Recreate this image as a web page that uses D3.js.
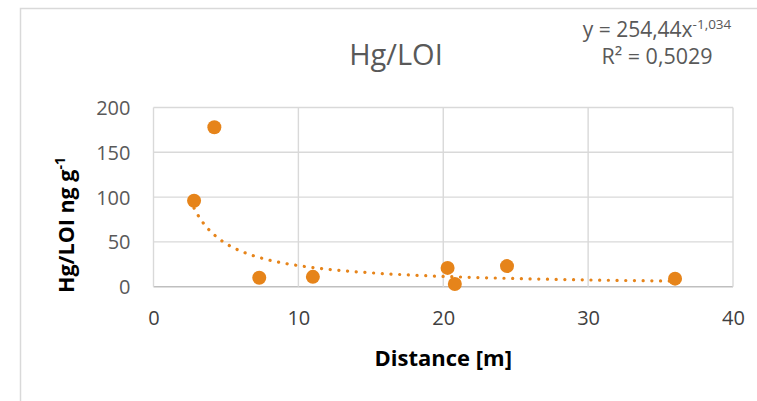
<!DOCTYPE html>
<html>
<head>
<meta charset="utf-8">
<script src="https://cdn.jsdelivr.net/npm/d3@7"></script>
<style>
  body { margin: 0; background: #fff; }
  text { font-family: "Open Sans", sans-serif; }
</style>
</head>
<body>
<svg id="chart" width="757" height="401"></svg>
<script>
// sample points
let distance = [2.8, 4.2, 7.3, 11.0, 20.3, 20.8, 24.4, 36.0];
let hgLoi = [96, 178, 10, 11, 21, 3, 23, 9];

let xTicks = [0, 10, 20, 30, 40];
let yTicks = [0, 50, 100, 150, 200];

// power trendline as printed on the chart
let trendA = 254.44;
let trendB = -1.034;
let trendLabel = "y = 254,44x";
let trendExp = "-1,034";
let r2Label = "R\u00B2 = 0,5029";

let orange = "#e6841a";
let grid = "#d9d9d9";

let svg = d3.select("#chart");

svg.append("rect")
    .attr("width", 757)
    .attr("height", 401)
    .attr("fill", "white");

// outer chart frame (runs off the right and bottom edge)
svg.append("rect")
    .attr("x", 20.5)
    .attr("y", 8.5)
    .attr("width", 800)
    .attr("height", 500)
    .attr("fill", "none")
    .attr("stroke", grid)
    .attr("stroke-width", 1.5);

let x = d3.scaleLinear().domain([0, 40]).range([153.5, 733]);
let y = d3.scaleLinear().domain([0, 200]).range([286.7, 107.5]);

// gridlines
let gGrid = svg.append("g");
gGrid.selectAll("line.h")
    .data(yTicks)
    .enter().append("line")
    .attr("x1", x(0)).attr("x2", x(40))
    .attr("y1", function(d) { return y(d); })
    .attr("y2", function(d) { return y(d); })
    .attr("stroke", function(d) { return d === 0 ? "#bfbfbf" : grid; })
    .attr("stroke-width", 1.4);
gGrid.selectAll("line.v")
    .data(xTicks)
    .enter().append("line")
    .attr("y1", y(0)).attr("y2", y(200))
    .attr("x1", function(d) { return x(d); })
    .attr("x2", function(d) { return x(d); })
    .attr("stroke", grid)
    .attr("stroke-width", 1.4);

// axes (labels only, Excel style)
let xAxis = svg.append("g")
    .attr("transform", "translate(0," + y(0) + ")")
    .call(d3.axisBottom(x).tickValues(xTicks).tickSize(0).tickPadding(0));
xAxis.select(".domain").remove();
xAxis.selectAll("text")
    .attr("y", 38)
    .attr("dy", 0)
    .attr("font-size", 20)
    .attr("font-family", "Open Sans")
    .attr("fill", "#404040");

let yAxis = svg.append("g")
    .attr("transform", "translate(" + x(0) + ",0)")
    .call(d3.axisLeft(y).tickValues(yTicks).tickSize(0).tickPadding(0));
yAxis.select(".domain").remove();
yAxis.selectAll("text")
    .attr("x", -23)
    .attr("dy", "0.35em")
    .attr("font-size", 20)
    .attr("font-family", "Open Sans")
    .attr("fill", "#595959");

// trendline
let xMin = d3.min(distance), xMax = d3.max(distance);
let trendPts = d3.range(0, 201).map(function(i) {
    let xv = xMin + (xMax - xMin) * i / 200;
    return [xv, trendA * Math.pow(xv, trendB)];
});
svg.append("path")
    .datum(trendPts)
    .attr("d", d3.line()
        .x(function(d) { return x(d[0]); })
        .y(function(d) { return y(d[1]); }))
    .attr("fill", "none")
    .attr("stroke", orange)
    .attr("stroke-width", 3.2)
    .attr("stroke-linecap", "round")
    .attr("stroke-dasharray", "0.1 8.6");

// points
svg.append("g")
    .selectAll("circle")
    .data(d3.zip(distance, hgLoi))
    .enter().append("circle")
    .attr("cx", function(d) { return x(d[0]); })
    .attr("cy", function(d) { return y(d[1]); })
    .attr("r", 7)
    .attr("fill", orange);

// title
svg.append("text")
    .attr("x", 396)
    .attr("y", 65)
    .attr("text-anchor", "middle")
    .attr("font-size", 29)
    .attr("fill", "#595959")
    .text("Hg/LOI");

// trend equation
let eq = svg.append("text")
    .attr("x", 657)
    .attr("y", 37)
    .attr("text-anchor", "middle")
    .attr("font-size", 21)
    .attr("fill", "#595959");
eq.append("tspan").text(trendLabel);
eq.append("tspan")
    .attr("dy", -8)
    .attr("font-size", 13.5)
    .text(trendExp);

svg.append("text")
    .attr("x", 657)
    .attr("y", 64)
    .attr("text-anchor", "middle")
    .attr("font-size", 21.5)
    .attr("fill", "#595959")
    .text(r2Label);

// axis titles
svg.append("text")
    .attr("x", x(20))
    .attr("y", 366)
    .attr("text-anchor", "middle")
    .attr("font-size", 22)
    .attr("font-weight", "bold")
    .attr("fill", "#000")
    .text("Distance [m]");

let yTitle = svg.append("text")
    .attr("transform", "translate(74,225) rotate(-90)")
    .attr("text-anchor", "middle")
    .attr("font-size", 21.5)
    .attr("font-weight", "bold")
    .attr("fill", "#000");
yTitle.append("tspan").text("Hg/LOI ng g");
yTitle.append("tspan")
    .attr("dy", -9)
    .attr("font-size", 14)
    .text("-1");
</script>
</body>
</html>
